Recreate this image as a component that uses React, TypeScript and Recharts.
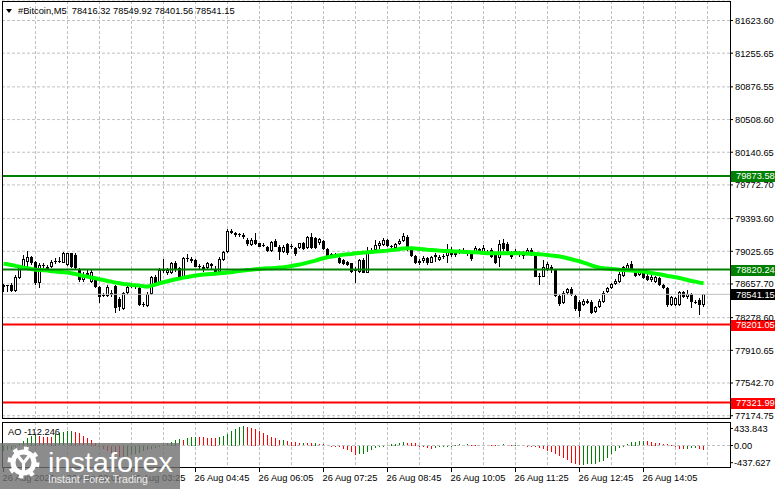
import React from "react";
import { ComposedChart, Bar, Line, XAxis, YAxis, CartesianGrid, ReferenceLine } from "recharts";

const FONT = "'Liberation Sans', Arial, sans-serif";

// ---- candle data (M5 bars, 26 Aug 00:45 .. 15:20) ----
const openPrices = [
  78643, 78639, 78647, 78583, 78722, 78853, 78909, 78966, 78909, 78666,
  78872, 78853, 78853, 78909, 78921, 78898, 78872, 79003, 78984, 78816,
  78703, 78759, 78684, 78703, 78628, 78534, 78523, 78534, 78636, 78486,
  78373, 78553, 78628, 78636, 78609, 78433, 78411, 78546, 78733, 78666,
  78808, 78778, 78786, 78898, 78834, 78741, 78947, 78936, 78928, 78861,
  78846, 78834, 78883, 78816, 78797, 78928, 79022, 79258, 79228, 79209,
  79213, 79153, 79097, 79153, 79116, 79097, 79078, 79033, 79146, 79078,
  79014, 79108, 79086, 79059, 79059, 79123, 79059, 79191, 79172, 79116,
  79146, 79048, 78996, 78981, 78954, 78928, 78906, 78891, 78823, 78797,
  78928, 78786, 79003, 79041, 79086, 79097, 79153, 79086, 79059, 79108,
  79146, 79191, 79048, 78973, 78891, 78921, 78947, 78898, 78958, 78928,
  78973, 78973, 79033, 78984, 79011, 79033, 79011, 79003, 79003, 79048,
  79022, 79022, 79041, 78996, 78947, 79123, 79108, 79022, 79003, 79018,
  78973, 79011, 79041, 79003, 78748, 78741, 78823, 78853, 78816, 78523,
  78441, 78561, 78598, 78523, 78459, 78422, 78441, 78459, 78347, 78396,
  78459, 78572, 78609, 78658, 78684, 78748, 78816, 78883, 78816, 78759,
  78786, 78748, 78703, 78684, 78722, 78647, 78609, 78422, 78422, 78422,
  78564, 78508, 78546, 78459, 78478, 78416.32,
];
const highPrices = [
  78654, 78651, 78666, 78759, 78872, 78984, 79033, 78973, 78921, 78891,
  78898, 78872, 78928, 78947, 78966, 79022, 79011, 79011, 79003, 78834,
  78797, 78816, 78816, 78722, 78636, 78561, 78647, 78591, 78647, 78508,
  78572, 78647, 78666, 78647, 78628, 78459, 78572, 78748, 78759, 78834,
  78936, 78834, 78909, 78921, 78853, 78958, 78996, 78958, 78936, 78883,
  78872, 78909, 78898, 78861, 78958, 79033, 79273, 79273, 79247, 79236,
  79228, 79172, 79172, 79228, 79123, 79116, 79086, 79146, 79161, 79093,
  79097, 79116, 79108, 79078, 79123, 79134, 79198, 79228, 79183, 79172,
  79153, 79059, 79011, 79011, 78966, 78936, 78921, 78898, 78853, 78936,
  78947, 79078, 79059, 79153, 79146, 79172, 79161, 79097, 79123, 79161,
  79236, 79209, 79059, 78984, 78936, 78973, 78966, 78973, 79011, 78984,
  78996, 79108, 79071, 79033, 79048, 79059, 79033, 79022, 79086, 79059,
  79097, 79041, 79059, 79011, 79153, 79161, 79134, 79033, 79048, 79033,
  79026, 79063, 79059, 79011, 78778, 78928, 78909, 78872, 78823, 78546,
  78583, 78609, 78621, 78534, 78478, 78486, 78493, 78478, 78411, 78486,
  78583, 78628, 78673, 78711, 78797, 78861, 78898, 78921, 78823, 78823,
  78797, 78771, 78759, 78748, 78741, 78658, 78628, 78523, 78516, 78583,
  78583, 78591, 78561, 78478, 78497, 78549.92,
];
const lowPrices = [
  78572, 78572, 78572, 78572, 78711, 78816, 78853, 78872, 78647, 78609,
  78834, 78797, 78834, 78883, 78898, 78891, 78861, 78834, 78816, 78684,
  78684, 78722, 78666, 78609, 78441, 78508, 78508, 78508, 78336, 78358,
  78366, 78534, 78609, 78598, 78411, 78396, 78403, 78534, 78647, 78658,
  78778, 78759, 78771, 78797, 78733, 78733, 78909, 78898, 78846, 78823,
  78797, 78823, 78816, 78778, 78786, 78921, 79011, 79221, 79191, 79183,
  79168, 79086, 79086, 79093, 79071, 79071, 79018, 79022, 79071, 78928,
  79003, 78984, 79048, 78973, 79048, 79041, 79048, 79048, 79048, 79097,
  79041, 78958, 78966, 78966, 78879, 78872, 78861, 78786, 78666, 78786,
  78778, 78778, 78996, 79033, 79048, 79086, 79071, 79048, 79048, 79097,
  79134, 79033, 78958, 78883, 78872, 78891, 78872, 78891, 78909, 78921,
  78936, 78891, 78958, 78958, 78996, 78996, 78973, 78921, 78996, 79003,
  79011, 78996, 78947, 78883, 78853, 79033, 79018, 78936, 78984, 78966,
  78943, 78984, 78973, 78733, 78647, 78733, 78808, 78786, 78508, 78411,
  78433, 78534, 78523, 78358, 78291, 78411, 78433, 78321, 78336, 78384,
  78448, 78561, 78598, 78647, 78673, 78733, 78808, 78808, 78733, 78748,
  78711, 78696, 78681, 78673, 78636, 78598, 78396, 78411, 78411, 78411,
  78497, 78486, 78384, 78433, 78309, 78401.56,
];
const closePrices = [
  78628, 78647, 78583, 78741, 78853, 78936, 78966, 78891, 78666, 78872,
  78861, 78823, 78909, 78921, 78913, 79003, 79003, 78853, 78834, 78703,
  78759, 78786, 78797, 78628, 78516, 78523, 78628, 78561, 78384, 78396,
  78553, 78621, 78639, 78621, 78422, 78418, 78546, 78733, 78666, 78816,
  78816, 78816, 78898, 78816, 78741, 78947, 78936, 78921, 78853, 78846,
  78823, 78891, 78861, 78797, 78936, 79014, 79258, 79236, 79206, 79217,
  79183, 79108, 79153, 79108, 79078, 79086, 79029, 79134, 79078, 79014,
  79078, 79003, 79071, 78996, 79116, 79048, 79183, 79059, 79059, 79161,
  79048, 78973, 78981, 78996, 78891, 78883, 78876, 78797, 78808, 78928,
  78786, 79003, 79041, 79097, 79116, 79153, 79086, 79071, 79108, 79142,
  79198, 79041, 78973, 78898, 78921, 78947, 78898, 78958, 78984, 78966,
  78958, 79033, 78984, 79011, 79033, 79011, 79003, 78936, 79059, 79022,
  79059, 79011, 78958, 78898, 79108, 79048, 79033, 78966, 79026, 78984,
  79011, 79041, 79003, 78741, 78733, 78846, 78883, 78816, 78523, 78433,
  78561, 78598, 78538, 78373, 78358, 78471, 78471, 78336, 78396, 78471,
  78561, 78609, 78658, 78696, 78771, 78846, 78868, 78816, 78748, 78797,
  78726, 78703, 78733, 78733, 78647, 78609, 78422, 78508, 78497, 78564,
  78516, 78546, 78459, 78448, 78422, 78541.15,
];
// moving average (bright green line)
const maValues = [
  78887, 78879, 78872, 78861, 78853, 78842, 78834, 78827, 78819, 78816,
  78812, 78808, 78801, 78797, 78793, 78789, 78786, 78778, 78771, 78759,
  78748, 78741, 78729, 78722, 78711, 78703, 78692, 78684, 78673, 78666,
  78658, 78654, 78647, 78643, 78639, 78632, 78628, 78639, 78651, 78666,
  78677, 78688, 78699, 78711, 78718, 78729, 78737, 78744, 78752, 78759,
  78763, 78767, 78771, 78774, 78778, 78782, 78786, 78789, 78797, 78804,
  78808, 78816, 78819, 78823, 78827, 78831, 78834, 78834, 78838, 78842,
  78846, 78853, 78861, 78868, 78876, 78887, 78898, 78909, 78921, 78936,
  78947, 78958, 78966, 78973, 78981, 78988, 78992, 78996, 79003, 79007,
  79011, 79014, 79018, 79022, 79026, 79029, 79033, 79041, 79044, 79052,
  79056, 79059, 79059, 79056, 79052, 79048, 79044, 79041, 79037, 79033,
  79029, 79029, 79026, 79022, 79022, 79018, 79018, 79014, 79014, 79011,
  79007, 79003, 79003, 79003, 79003, 79003, 79003, 79003, 79003, 79003,
  79003, 78999, 78999, 78996, 78992, 78988, 78984, 78977, 78973, 78966,
  78958, 78947, 78936, 78924, 78913, 78898, 78883, 78868, 78853, 78842,
  78834, 78831, 78827, 78823, 78819, 78816, 78812, 78808, 78804, 78801,
  78797, 78789, 78782, 78774, 78767, 78759, 78748, 78741, 78733, 78726,
  78714, 78703, 78692, 78684, 78673, 78666,
];
// Awesome Oscillator
const aoValues = [
  -145, -110, -85, -50, 26, 110, 195, 238, 264, 247,
  221, 213, 204, 281, 306, 349, 366, 374, 349, 306,
  247, 196, 136, 51, -34, -77, -145, -204, -247, -289,
  -298, -264, -230, -204, -179, -145, -119, -77, -51, -17,
  9, 51, 94, 128, 153, 145, 179, 204, 221, 213,
  204, 200, 196, 187, 213, 238, 289, 357, 425, 468,
  493, 476, 450, 417, 366, 306, 264, 221, 179, 136,
  145, 110, 94, 77, 60, 68, 60, 51, 58, 50,
  42, 17, -9, -17, -43, -77, -119, -162, -230, -225,
  -204, -162, -111, -51, -26, -9, 5, 26, 43, 60,
  77, 76, 68, 51, -2, -34, -68, -77, -60, -43,
  -34, -26, -9, 15, 26, 24, 34, 17, 16, 24,
  18, 10, 8, 6, 14, 26, 9, 5, 12, 14,
  8, -3, -10, -34, -60, -94, -128, -162, -213, -264,
  -315, -374, -434, -476, -493, -485, -484, -476, -459, -425,
  -383, -306, -221, -136, -60, -17, 43, 77, 94, 110,
  119, 110, 85, 68, 51, 43, 34, 17, -34, -77,
  -94, -77, -76, -60, -85, -112.246,
];

const priceTicks = [
  81623.6, 81255.65, 80876.55, 80508.6, 80140.65, 79772.7, 79393.6,
  79025.65, 78657.7, 78278.6, 77910.65, 77542.7, 77174.75,
];
const aoTicks = [433.843, 0, -437.627];
const aoTickLabels = ["433.843", "0.00", "-437.627"];
const timeTickBars = [0, 16, 32, 48, 64, 80, 96, 112, 128, 144, 160];
const timeTickLabels = [
  "26 Aug 2026", "26 Aug 02:05", "26 Aug 03:25", "26 Aug 04:45", "26 Aug 06:05",
  "26 Aug 07:25", "26 Aug 08:45", "26 Aug 10:05", "26 Aug 11:25", "26 Aug 12:45", "26 Aug 14:05",
];
const gridBars = [8, 16, 24, 32, 40, 48, 56, 64, 72, 80, 88, 96, 104, 112, 120, 128, 136, 144, 152, 160, 168, 176];
const resistanceLevels = [79873.58, 78820.24];
const supportLevels = [78201.05, 77321.99];
const lastPrice = 78541.15;

const data = openPrices.map((open, i) => ({
  i,
  open,
  high: highPrices[i],
  low: lowPrices[i],
  close: closePrices[i],
  range: [lowPrices[i], highPrices[i]],
  ma: maValues[i],
  ao: aoValues[i],
  aoUp: i === 0 ? true : aoValues[i] >= aoValues[i - 1],
}));

const X_DOMAIN: [number, number] = [-0.375, 181.625];
const PRICE_DOMAIN: [number, number] = [77148.9, 81843.1];
const AO_DOMAIN: [number, number] = [-548, 599];
const GREEN = "#008000";
const RED = "#FF0000";
const GRID = "#C0C0C0";
const AXIS_FONT = 9.3;

const Candle = (props: any) => {
  const { x, y, width, height, payload } = props;
  if (!payload || !isFinite(x) || !isFinite(y)) return null;
  const { open, close, high, low } = payload;
  const top = Math.min(y, y + height);
  const hgt = Math.abs(height);
  const cx = Math.floor(x + width / 2) + 0.5;
  const span = high - low;
  const toY = (v: number) => (span > 0 ? top + ((high - v) / span) * hgt : top);
  const wickTop = Math.round(top);
  const wickBot = Math.max(Math.round(top + hgt), wickTop + 1);
  const bodyTop = Math.round(toY(Math.max(open, close)));
  const bodyBot = Math.round(toY(Math.min(open, close)));
  const bull = close > open;
  const h = bodyBot - bodyTop;
  return (
    <g>
      <line x1={cx} x2={cx} y1={wickTop} y2={wickBot} stroke="#000" strokeWidth={1} />
      {h >= 2 ? (
        <rect x={cx - 1} y={bodyTop + 0.5} width={2} height={h - 1} fill={bull ? "#fff" : "#000"} stroke="#000" strokeWidth={1} />
      ) : (
        <rect x={cx - 1.5} y={bodyTop} width={3} height={1} fill="#000" />
      )}
    </g>
  );
};

const AoBar = (props: any) => {
  const { x, y, width, height, payload } = props;
  if (!payload || !isFinite(x) || !isFinite(y)) return null;
  const cx = Math.floor(x + width / 2) + 0.5;
  const y1 = Math.round(Math.min(y, y + height));
  const y2 = Math.max(Math.round(Math.max(y, y + height)), y1 + 1);
  return <line x1={cx} x2={cx} y1={y1} y2={y2} stroke={payload.aoUp ? GREEN : RED} strokeWidth={1} />;
};

const PriceTick = (props: any) => {
  const { x, y, payload } = props;
  return (
    <text x={x} y={y} dy={3.4} fontSize={AXIS_FONT} fill="#000" textAnchor="start" fontFamily={FONT}>
      {Number(payload.value).toFixed(2)}
    </text>
  );
};

const AoTick = (props: any) => {
  const { x, y, payload } = props;
  const idx = aoTicks.indexOf(payload.value);
  return (
    <text x={x} y={y} dy={3.4} fontSize={AXIS_FONT} fill="#000" textAnchor="start" fontFamily={FONT}>
      {idx >= 0 ? aoTickLabels[idx] : payload.value}
    </text>
  );
};

const TimeTick = (props: any) => {
  const { x, y, payload } = props;
  const idx = timeTickBars.indexOf(payload.value);
  return (
    <text x={x - 1} y={y + 9} fontSize={AXIS_FONT} fill="#000" textAnchor="start" fontFamily={FONT}>
      {idx >= 0 ? timeTickLabels[idx] : ""}
    </text>
  );
};

const boxLabel = (text: string, bg: string) => (props: any) => {
  const vb = props.viewBox || {};
  const right = (vb.x ?? 0) + (vb.width ?? 0);
  const ly = vb.y ?? 0;
  return (
    <g>
      <rect x={right + 1} y={Math.round(ly) - 5} width={44} height={11} fill={bg} />
      <text x={right + 6} y={ly} dy={3.4} fontSize={AXIS_FONT} fill="#fff" fontFamily={FONT}>
        {text}
      </text>
    </g>
  );
};

export default function App() {
  const last = data.length - 1;
  const title = `#Bitcoin,M5  ${openPrices[last].toFixed(2)} ${highPrices[last].toFixed(2)} ${lowPrices[last].toFixed(2)} ${closePrices[last].toFixed(2)}`;
  const aoTitle = `AO ${aoValues[last].toFixed(3)}`;
  return (
    <div style={{ position: "absolute", left: 0, top: 0, width: 781, height: 489, background: "#fff", fontFamily: FONT, overflow: "hidden" }}>
      <div style={{ position: "absolute", left: 0, top: 0 }}>
        <ComposedChart width={781} height={426} data={data} margin={{ top: 1, right: 0, bottom: 8, left: 2 }}>
          <XAxis hide type="number" dataKey="i" domain={X_DOMAIN} allowDataOverflow ticks={gridBars} interval={0} />
          <YAxis
            orientation="right"
            type="number"
            width={51}
            domain={PRICE_DOMAIN}
            allowDataOverflow
            ticks={priceTicks}
            interval={0}
            axisLine={false}
            tickLine={{ stroke: "#000" }}
            tickSize={3}
            tick={<PriceTick />}
          />
          <CartesianGrid stroke={GRID} strokeDasharray="3 2" verticalValues={gridBars} />
          <ReferenceLine y={lastPrice} stroke={GRID} strokeWidth={1} label={boxLabel(lastPrice.toFixed(2), "#000")} />
          <Bar dataKey="range" barSize={3} shape={<Candle />} isAnimationActive={false} />
          <Line dataKey="ma" type="linear" stroke="#00FF00" strokeWidth={4} dot={false} activeDot={false} isAnimationActive={false} />
          {resistanceLevels.map((p) => (
            <ReferenceLine key={p} y={p} stroke={GREEN} strokeWidth={2} label={boxLabel(p.toFixed(2), GREEN)} />
          ))}
          {supportLevels.map((p) => (
            <ReferenceLine key={p} y={p} stroke={RED} strokeWidth={2} label={boxLabel(p.toFixed(2), RED)} />
          ))}
        </ComposedChart>
      </div>
      <div style={{ position: "absolute", left: 0, top: 419 }}>
        <ComposedChart width={781} height={70} data={data} margin={{ top: 3, right: 0, bottom: 0, left: 2 }}>
          <XAxis
            type="number"
            dataKey="i"
            domain={X_DOMAIN}
            allowDataOverflow
            ticks={timeTickBars}
            interval={0}
            height={22}
            axisLine={false}
            tickLine={{ stroke: "#000" }}
            tickSize={5}
            tickMargin={0}
            tick={<TimeTick />}
          />
          <YAxis
            orientation="right"
            type="number"
            width={51}
            domain={AO_DOMAIN}
            allowDataOverflow
            ticks={aoTicks}
            interval={0}
            axisLine={false}
            tickLine={{ stroke: "#000" }}
            tickSize={3}
            tickMargin={1}
            tick={<AoTick />}
          />
          <CartesianGrid stroke={GRID} strokeDasharray="3 2" horizontal={false} verticalValues={gridBars} />
          <ReferenceLine y={0} stroke={GRID} strokeDasharray="3 2" />
          <Bar dataKey="ao" barSize={1} shape={<AoBar />} isAnimationActive={false} />
        </ComposedChart>
      </div>
      {/* panel frames */}
      <div style={{ position: "absolute", left: 2, top: 1, width: 729, height: 418, border: "1px solid #000", boxSizing: "border-box", pointerEvents: "none" }} />
      <div style={{ position: "absolute", left: 2, top: 422, width: 729, height: 46, border: "1px solid #000", boxSizing: "border-box", pointerEvents: "none" }} />
      {/* texts and watermark */}
      <svg width={781} height={489} style={{ position: "absolute", left: 0, top: 0, pointerEvents: "none" }}>
        <polygon points="6,9 12,9 9,13" fill="#000" />
        <text x={18} y={14} fontSize={9.3} fill="#000" fontFamily={FONT} style={{ whiteSpace: "pre" }}>
          {title}
        </text>
        <text x={8} y={434.5} fontSize={9.3} fill="#000" fontFamily={FONT}>
          {aoTitle}
        </text>
        <g>
          <rect x={0} y={443} width={180} height={46} fill="#6f6f6f" opacity={0.8} />
          <circle cx={23.5} cy={462.5} r={10.5} fill="none" stroke="#fff" strokeWidth={5} />
          <circle cx={23.5} cy={462.5} r={14} fill="none" stroke="#fff" strokeWidth={4} strokeDasharray="4.5 6.5" />
          <path d="M18 456 L23.5 463 L29 456 M23.5 463 L23.5 474" stroke="#fff" strokeWidth={3} fill="none" />
          <text x={48} y={472} fontSize={28} fill="#fff" fontFamily={FONT} textLength={125} lengthAdjust="spacingAndGlyphs">
            instaforex
          </text>
          <text x={48} y={483} fontSize={10} fill="#ececec" fontFamily={FONT} textLength={100} lengthAdjust="spacingAndGlyphs">
            Instant Forex Trading
          </text>
        </g>
      </svg>
    </div>
  );
}
